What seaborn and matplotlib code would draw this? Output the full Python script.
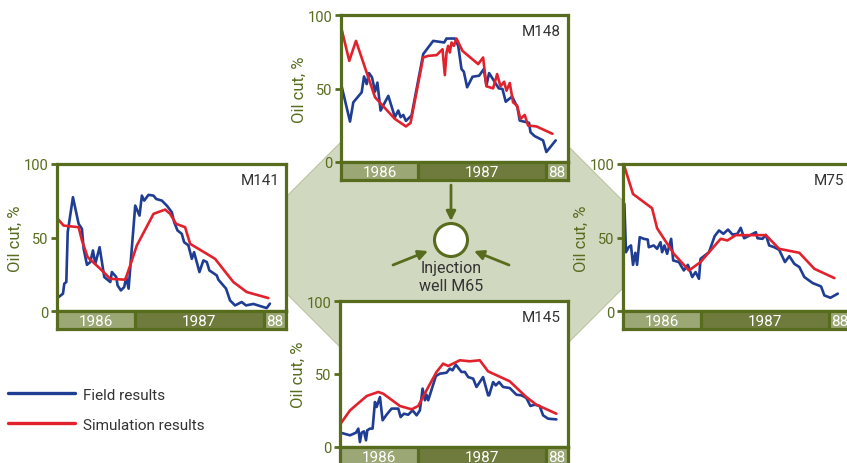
import matplotlib
matplotlib.use("Agg")
import matplotlib.pyplot as plt
from matplotlib.patches import Polygon, Circle
from matplotlib.lines import Line2D
import seaborn as sns

# x = months since Jan 1986, y = oil cut in %
m148_field_month = [4.76, 5.55, 5.86, 6.65, 6.87, 7.12, 7.34, 7.62, 7.91, 8.13, 8.43, 9.16, 9.78, 10.10,
                    10.32, 10.57, 10.82, 11.35, 12.45, 13.39, 14.43, 14.65, 15.43, 15.75, 16.06, 16.28,
                    16.59, 17.10, 17.72, 18.16, 18.41, 18.66, 19.57, 19.92, 20.23, 20.55, 20.83, 21.33,
                    21.55, 22.43, 22.56, 22.96, 23.75, 24.06, 24.94]
m148_field_cut = [51.5, 27.5, 40.6, 47.4, 58.2, 53, 60.5, 57.6, 47.9, 54, 35, 45, 30.5, 35,
                  30.5, 32, 28, 31.6, 73.4, 82.4, 81.3, 84, 84, 79, 63.2, 61.4,
                  50.8, 58, 58.7, 63.2, 52, 60.5, 50.1, 49.7, 41, 42.9, 44.5, 37.2,
                  28.2, 26.6, 20.3, 17.6, 14.7, 6.8, 14.7]
m148_sim_month = [4.76, 5.48, 6.11, 7.91, 9.78, 10.82, 11.26, 12.45, 12.92, 13.71, 14.27, 14.49, 14.65,
                  14.80, 14.96, 15.12, 15.34, 15.59, 16.15, 17.63, 18.10, 18.41, 19.04, 19.42, 19.73,
                  20.08, 20.30, 20.61, 20.92, 21.30, 21.61, 22.02, 22.34, 23.12, 24.63]
m148_sim_cut = [90.3, 68.8, 82.4, 44, 29.3, 24.2, 26.6, 71.1, 72.2, 72.7, 76.7, 59.1, 74.5,
                79, 74.5, 81.3, 79, 84, 75.6, 66.6, 71.1, 51.5, 50.1, 59.8, 51.5,
                54.6, 48.5, 53.7, 40.6, 38.4, 29.3, 32, 24.8, 24.2, 19.2]

m141_field_month = [4.86, 5.26, 5.38, 5.57, 5.70, 6.19, 6.72, 7.03, 7.19, 7.50, 7.81, 8.06, 8.28, 8.68,
                    9.12, 9.68, 9.83, 10.24, 10.36, 10.67, 10.98, 11.17, 11.39, 12.01, 12.41, 12.63,
                    12.85, 13.25, 13.72, 13.97, 14.50, 14.96, 15.43, 15.65, 15.96, 16.36, 16.58, 16.98,
                    17.30, 17.51, 18.01, 18.38, 18.70, 18.94, 19.63, 19.78, 20.50, 20.87, 21.34, 21.96,
                    22.36, 23.05, 23.98, 24.29, 24.60]
m141_field_cut = [9.5, 11.8, 18.6, 19.7, 53.6, 77.4, 59.3, 55.9, 42.3, 31.4, 33.3, 41.2, 32.1, 43.4,
                  23.1, 19.7, 26.5, 23.1, 17.4, 14, 16.3, 23.1, 15.2, 71.7, 64.9, 78.5,
                  75.1, 79, 78.5, 76.2, 75.1, 71.7, 67.2, 60.4, 54.8, 52.5, 46.8, 44.6,
                  35.5, 40, 26.5, 34.4, 33.3, 27.6, 24.2, 21.3, 15.2, 7.2, 3.8, 6.1,
                  3.8, 4.8, 2.7, 2, 5]
m141_sim_month = [4.76, 5.32, 6.72, 7.03, 7.56, 8.74, 9.68, 11.08, 11.54, 12.16, 13.72, 14.81, 15.27,
                  15.83, 16.67, 17.14, 19.47, 21.18, 22.43, 24.45]
m141_sim_cut = [62.7, 58.1, 57, 48, 36.7, 28.7, 21.9, 21.3, 31, 44.6, 66.1, 69, 66.1,
                59.3, 57, 45.7, 35.5, 19.7, 12.9, 8.8]

m75_field_month = [4.83, 4.98, 5.23, 5.45, 5.64, 5.86, 6.02, 6.27, 6.65, 7.02, 7.12, 7.59, 7.90, 8.22,
                   8.37, 8.59, 8.84, 9.22, 9.41, 9.94, 10.41, 10.79, 11.20, 11.51, 11.83, 11.98,
                   12.77, 13.30, 13.71, 14.12, 14.56, 14.97, 15.44, 15.75, 16.07, 16.69, 17.17, 17.32,
                   17.79, 18.11, 18.42, 18.89, 19.36, 19.90, 20.31, 20.78, 21.25, 21.72, 22.50, 23.29,
                   23.60, 24.17, 24.86]
m75_field_cut = [72.9, 40, 43.4, 44.6, 31.4, 39.6, 31.4, 50.2, 49.1, 48.6, 43.4, 44.6, 42.3, 46.8,
                 40, 44.6, 38.9, 49.1, 34.4, 33.3, 27.6, 31.4, 23.1, 26.5, 21.9, 35.5,
                 40, 50.9, 54.8, 52.5, 55.4, 52, 52.5, 56.6, 49.5, 51.8, 53.6, 49.5,
                 49.1, 51.8, 44.6, 43.4, 41.6, 33.3, 37.3, 32.1, 29.9, 23.1, 19, 16.7,
                 10.6, 9, 11.8]
m75_sim_month = [4.76, 5.64, 7.43, 7.90, 9.47, 10.89, 11.98, 12.77, 13.87, 14.50, 15.28, 16.38, 18.11,
                 19.36, 21.25, 22.66, 24.54]
m75_sim_cut = [100, 79.6, 69.9, 56.3, 38.9, 27.6, 33.3, 40, 49.1, 48, 51.6, 51.6, 51.6,
               42.3, 39.6, 28.7, 22.4]

m145_field_month = [4.76, 5.64, 6.20, 6.42, 6.57, 6.73, 6.95, 7.14, 7.26, 7.51, 7.76, 7.98, 8.14, 8.45,
                    8.70, 9.07, 9.54, 10.17, 10.39, 10.70, 11.10, 11.51, 11.89, 12.20, 12.45, 12.67,
                    12.82, 12.98, 13.70, 14.07, 14.70, 15.01, 15.26, 15.57, 16.10, 16.42, 16.73, 17.20,
                    17.51, 18.13, 18.60, 18.70, 19.07, 19.32, 19.63, 20.01, 20.63, 21.26, 21.73, 22.19,
                    22.57, 22.98, 23.44, 23.76, 24.23, 25.01]
m145_field_cut = [9.8, 8, 9.8, 12.6, 3.4, 9.8, 10.7, 4.6, 11.4, 12.6, 12.6, 30.8, 27.4, 34.2,
                  18.3, 22.1, 26.3, 26.3, 20.5, 22.8, 22.1, 25.1, 21.7, 25.1, 40, 32,
                  35.8, 32, 48.6, 50.2, 50.9, 53.7, 52.5, 56.4, 51.4, 51.4, 47.9, 46.8,
                  41.1, 47.9, 35.4, 35.4, 44.5, 42.2, 44.5, 41.1, 40.4, 35.8, 35.4, 33.6,
                  28.1, 29, 28.1, 21.7, 19.4, 18.9]
m145_sim_month = [4.76, 5.64, 7.20, 8.29, 8.76, 10.32, 11.42, 12.04, 12.82, 13.76, 14.38, 14.85, 15.95,
                  16.88, 17.82, 18.60, 20.63, 22.19, 23.13, 25.01]
m145_sim_cut = [16, 25.1, 34.9, 37.7, 36.5, 28.1, 25.8, 28.1, 38.8, 51.4, 57.1, 55.5, 59.4,
                58.7, 59.4, 51.8, 45, 34.2, 29, 22.8]

year_labels = ["1986", "1987", "88"]
year_edges = [4.7, 12, 24, 26.1]

OLIVE = "#586c1e"
LIGHT = "#9ba775"
DARK = "#6e7b3d"
BG = "#d1d8c0"
BLUE = "#1f3d92"
RED = "#e1222c"
TXT = "#333333"

sns.set_style("white")
plt.rcParams["font.family"] = ["Roboto", "DejaVu Sans"]

W, H = 847, 464
fig = plt.figure(figsize=(W / 100, H / 100), dpi=100)


def box(x0, y0, x1, y1):
    return [x0 / W, 1 - y1 / H, (x1 - x0) / W, (y1 - y0) / H]


# background diagram in pixel space
bg = fig.add_axes([0, 0, 1, 1])
bg.set_xlim(0, W)
bg.set_ylim(H, 0)
bg.axis("off")
bg.add_patch(Polygon([(384, 100), (521, 100), (622, 201), (622, 290), (512, 400), (392, 400),
                      (287, 295), (287, 197)], closed=True, facecolor=BG, edgecolor="#bcc4a3", lw=0.8))
bg.add_patch(Circle((451, 241), 16.5, facecolor="white", edgecolor=OLIVE, lw=2.2, zorder=3))
arrow = dict(arrowstyle="-|>", color=OLIVE, lw=2, mutation_scale=14, shrinkA=0, shrinkB=0)
bg.annotate("", xy=(451, 222), xytext=(451, 186), arrowprops=arrow)
bg.annotate("", xy=(428, 252), xytext=(393, 266), arrowprops=arrow)
bg.annotate("", xy=(474, 252), xytext=(509, 266), arrowprops=arrow)
bg.text(451, 278, "Injection\nwell M65", ha="center", va="center", fontsize=11.5,
        color=TXT, linespacing=1.25)

panels = [
    ("M148", (341, 16, 568, 163, 181), m148_field_month, m148_field_cut, m148_sim_month, m148_sim_cut),
    ("M141", (57, 165, 286, 312, 330), m141_field_month, m141_field_cut, m141_sim_month, m141_sim_cut),
    ("M75", (623, 165, 851, 312, 330), m75_field_month, m75_field_cut, m75_sim_month, m75_sim_cut),
    ("M145", (340, 302, 568, 448, 466), m145_field_month, m145_field_cut, m145_sim_month, m145_sim_cut),
]

for name, (x0, y0, x1, yz, yb), fm, fc, sm, sc in panels:
    ax = fig.add_axes(box(x0, y0, x1, yz))
    ax.set_facecolor("white")
    sns.lineplot(x=fm, y=fc, ax=ax, color=BLUE, lw=1.9, estimator=None, sort=False)
    sns.lineplot(x=sm, y=sc, ax=ax, color=RED, lw=1.9, estimator=None, sort=False)
    ax.set_xlim(year_edges[0], year_edges[-1])
    ax.set_ylim(0, 100)
    ax.set_xticks([])
    ax.set_yticks([0, 50, 100])
    ax.tick_params(axis="y", left=True, length=4, width=2, color=OLIVE, labelcolor=OLIVE,
                   labelsize=10.5, pad=2)
    for s in ax.spines.values():
        s.set_color(OLIVE)
        s.set_linewidth(2.3)
    ax.set_ylabel("Oil cut, %", color=OLIVE, fontsize=12)
    ax.yaxis.set_label_coords(-0.15, 0.5)
    ax.set_xlabel("")
    ax.text(0.97, 0.94, name, transform=ax.transAxes, ha="right", va="top", fontsize=11, color=TXT)

    bar = fig.add_axes(box(x0, yz, x1, yb))
    bar.set_xlim(year_edges[0], year_edges[-1])
    bar.set_ylim(0, 1)
    bar.set_xticks([])
    bar.set_yticks([])
    for s in bar.spines.values():
        s.set_color(OLIVE)
        s.set_linewidth(2.3)
    for i, lab in enumerate(year_labels):
        a, b = year_edges[i], year_edges[i + 1]
        bar.axvspan(a, b, color=DARK if i == 1 else LIGHT, lw=0)
        bar.text((a + b) / 2, 0.45, lab, ha="center", va="center", color="white", fontsize=11)
    for e in year_edges[1:-1]:
        bar.axvline(e, color=OLIVE, lw=2.3)

handles = [Line2D([], [], color=BLUE, lw=2.4), Line2D([], [], color=RED, lw=2.4)]
fig.legend(handles, ["Field results", "Simulation results"], loc="upper left",
           bbox_to_anchor=(-6 / W, 1 - 375 / H), frameon=False, fontsize=11,
           handlelength=4.4, handletextpad=0.5, labelspacing=1.05, labelcolor=TXT)

fig.savefig("out.png", dpi=100)
